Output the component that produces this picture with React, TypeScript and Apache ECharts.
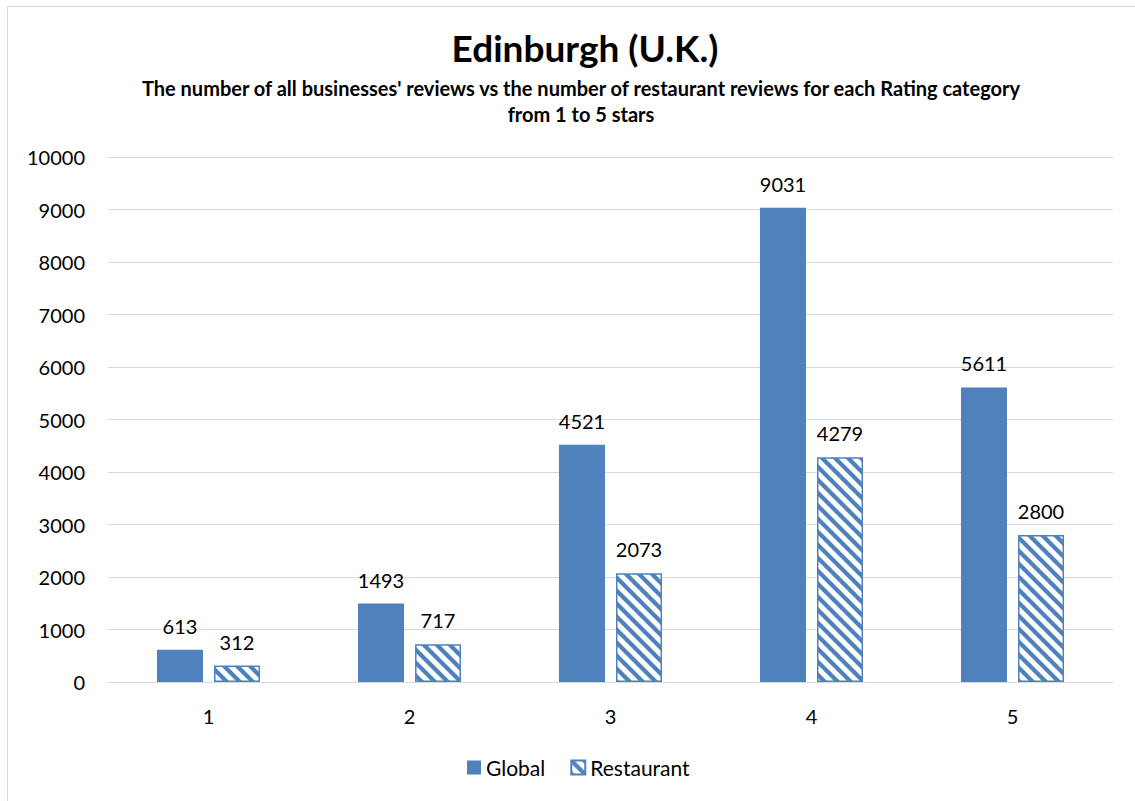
import React, { useEffect, useRef } from "react";
import * as echarts from "echarts";

const categories = ["1", "2", "3", "4", "5"];
const globalValues = [613, 1493, 4521, 9031, 5611];
const restaurantValues = [312, 717, 2073, 4279, 2800];
const yTicks = [0, 1000, 2000, 3000, 4000, 5000, 6000, 7000, 8000, 9000, 10000];
const titleText = "Edinburgh (U.K.)";
const subtitleText =
  "The number of all businesses' reviews vs the number of restaurant reviews for each Rating category\nfrom 1 to 5 stars";

const BLUE = "#4f81bd";
const FONT = "Lato, 'Open Sans', sans-serif";

function makePattern(): HTMLCanvasElement {
  const s = 13;
  const c = document.createElement("canvas");
  c.width = s;
  c.height = s;
  const ctx = c.getContext("2d")!;
  ctx.fillStyle = "#ffffff";
  ctx.fillRect(0, 0, s, s);
  ctx.strokeStyle = BLUE;
  ctx.lineWidth = 4.2;
  for (const off of [-s, 0, s]) {
    ctx.beginPath();
    ctx.moveTo(off - 2, -2);
    ctx.lineTo(off + s + 2, s + 2);
    ctx.stroke();
  }
  return c;
}

export default function App() {
  const ref = useRef<HTMLDivElement>(null);
  useEffect(() => {
    if (!ref.current) return;
    const chart = echarts.init(ref.current, undefined, { renderer: "svg" });
    const pattern = makePattern();
    const labelStyle = {
      show: true,
      position: "top" as const,
      distance: 14,
      fontSize: 20,
      color: "#000",
      fontFamily: FONT,
    };
    chart.setOption({
      animation: false,
      backgroundColor: "#fff",
      textStyle: { fontFamily: FONT },
      graphic: [
        {
          type: "rect",
          shape: { x: 7.5, y: 6.5, width: 1140, height: 800 },
          style: { fill: "none", stroke: "#d9d9d9", lineWidth: 1 },
          silent: true,
        },
      ],
      title: [
        {
          text: titleText,
          left: 580,
          textAlign: "center",
          top: 24,
          textStyle: { fontSize: 37, fontWeight: "bold", color: "#000", fontFamily: FONT },
        },
        {
          text: subtitleText,
          left: 576,
          textAlign: "center",
          top: 70,
          textStyle: {
            fontSize: 20,
            fontWeight: "bold",
            color: "#000",
            lineHeight: 26,
            fontFamily: FONT,
          },
        },
      ],
      legend: {
        data: ["Global", "Restaurant"],
        left: 462,
        top: 752,
        itemWidth: 14,
        itemHeight: 14,
        itemGap: 25,
        icon: "rect",
        textStyle: { fontSize: 21, color: "#000", fontFamily: FONT },
      },
      grid: { left: 108, right: 22, top: 157, bottom: 119 },
      xAxis: {
        type: "category",
        data: categories,
        axisLine: { lineStyle: { color: "#d9d9d9", width: 1 } },
        axisTick: { show: false },
        axisLabel: { fontSize: 20, color: "#000", margin: 24, fontFamily: FONT },
      },
      yAxis: {
        type: "value",
        min: yTicks[0],
        max: yTicks[yTicks.length - 1],
        interval: yTicks[1] - yTicks[0],
        axisLine: { show: false },
        axisTick: { show: false },
        splitLine: { lineStyle: { color: "#d9d9d9", width: 1 } },
        axisLabel: {
          fontSize: 20,
          color: "#000",
          margin: 23,
          fontFamily: FONT,
          formatter: (v: number) => String(v),
        },
      },
      series: [
        {
          name: "Global",
          type: "bar",
          data: globalValues,
          barWidth: 46,
          barGap: "24%",
          itemStyle: { color: BLUE },
          label: labelStyle,
        },
        {
          name: "Restaurant",
          type: "bar",
          data: restaurantValues,
          barWidth: 46,
          itemStyle: {
            color: { image: pattern, repeat: "repeat" },
            borderColor: BLUE,
            borderWidth: 1.5,
          },
          label: labelStyle,
        },
      ],
    });
    return () => chart.dispose();
  }, []);
  return (
    <div
      ref={ref}
      style={{ position: "fixed", left: 0, top: 0, width: 1135, height: 801 }}
    />
  );
}
